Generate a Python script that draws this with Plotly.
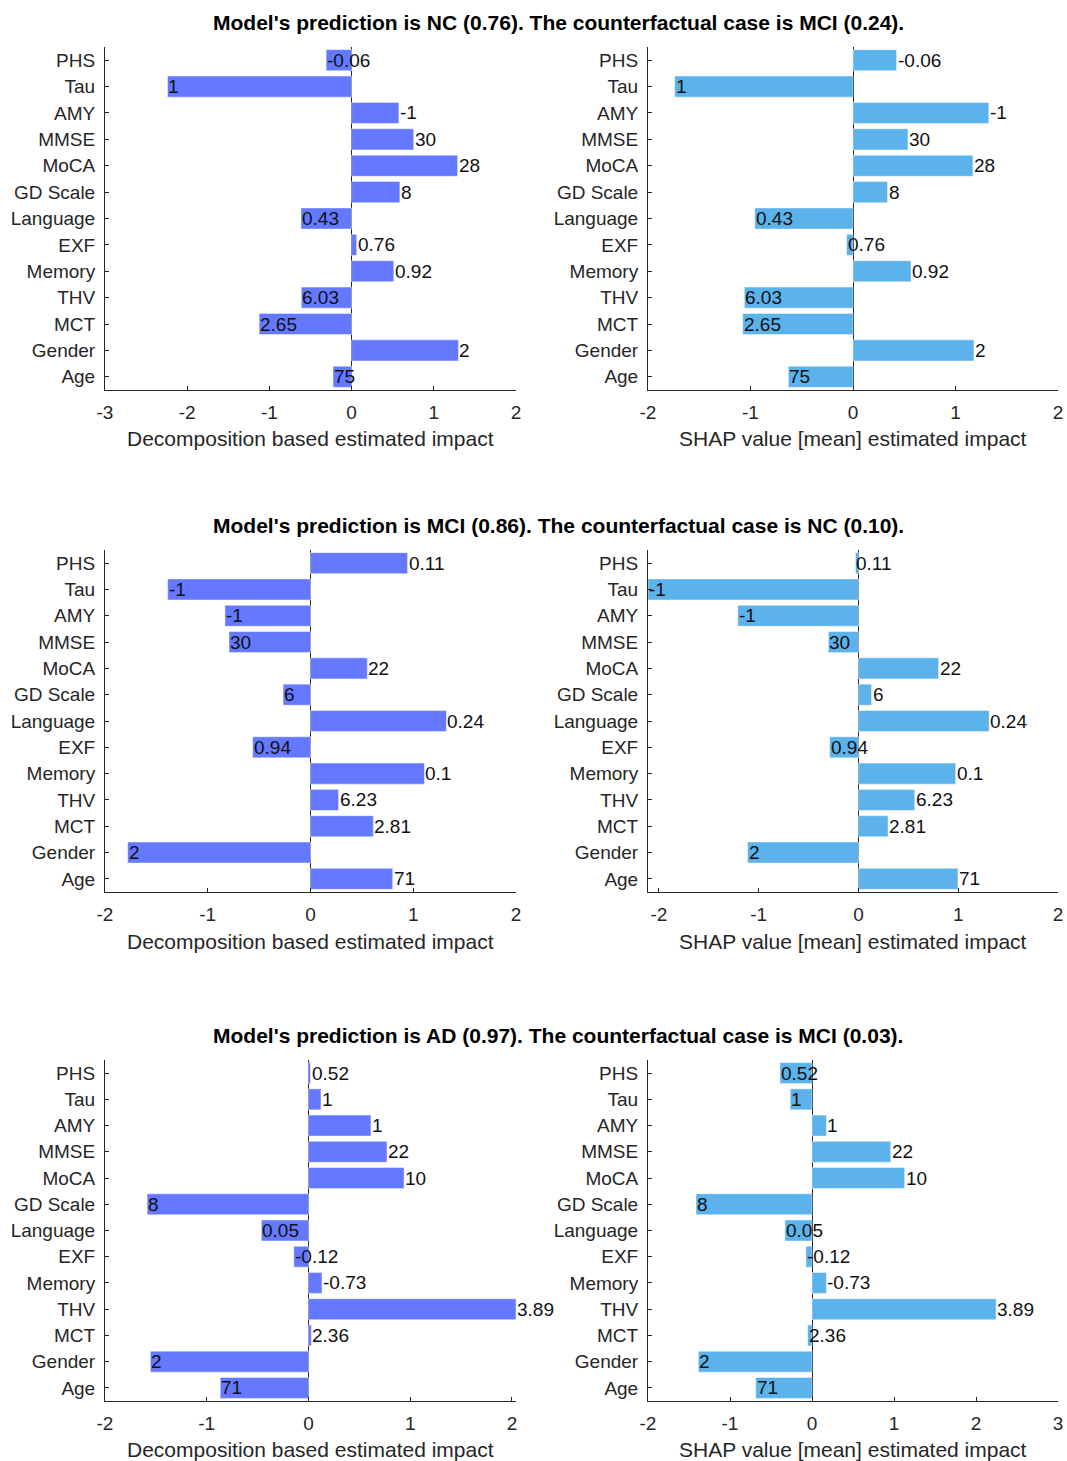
import plotly.graph_objects as go

W, H = 1067, 1461

features = ["PHS", "Tau", "AMY", "MMSE", "MoCA", "GD Scale", "Language",
            "EXF", "Memory", "THV", "MCT", "Gender", "Age"]

titles = [
    "Model's prediction is NC (0.76). The counterfactual case is MCI (0.24).",
    "Model's prediction is MCI (0.86). The counterfactual case is NC (0.10).",
    "Model's prediction is AD (0.97). The counterfactual case is MCI (0.03).",
]

# feature values printed next to each bar, one list per case
values_nc = ["-0.06", "1", "-1", "30", "28", "8", "0.43", "0.76", "0.92",
             "6.03", "2.65", "2", "75"]
values_mci = ["0.11", "-1", "-1", "30", "22", "6", "0.24", "0.94", "0.1",
              "6.23", "2.81", "2", "71"]
values_ad = ["0.52", "1", "1", "22", "10", "8", "0.05", "-0.12", "-0.73",
             "3.89", "2.36", "2", "71"]

# decomposition based impact
decomp_nc = [-0.31, -2.24, 0.575, 0.756, 1.29, 0.587, -0.616, 0.062, 0.513,
             -0.612, -1.125, 1.30, -0.226]
decomp_mci = [0.945, -1.39, -0.833, -0.793, 0.553, -0.267, 1.323, -0.563,
              1.109, 0.273, 0.612, -1.78, 0.80]
decomp_ad = [0.02, 0.123, 0.614, 0.772, 0.94, -1.586, -0.463, -0.144, 0.133,
             2.04, 0.028, -1.554, -0.867]

# SHAP value [mean] impact
shap_nc = [0.425, -1.74, 1.325, 0.536, 1.17, 0.337, -0.958, -0.062, 0.566,
           -1.06, -1.076, 1.18, -0.631]
shap_mci = [-0.03, -2.11, -1.21, -0.302, 0.803, 0.131, 1.31, -0.289, 0.974,
            0.564, 0.296, -1.112, 0.997]
shap_ad = [-0.39, -0.266, 0.176, 0.96, 1.13, -1.415, -0.331, -0.074, 0.176,
           2.245, -0.053, -1.386, -0.687]

x_ranges = [[-3, 2], [-2, 2], [-2, 2], [-2.11, 2], [-2, 2.04], [-2, 3]]

DECOMP_COLOR = "#6479FF"
SHAP_COLOR = "#5CB2EA"
INK = "#262626"
FONT = "Liberation Sans, Arial, sans-serif"

panels = [
    (decomp_nc, values_nc, DECOMP_COLOR, "Decomposition based estimated impact"),
    (shap_nc, values_nc, SHAP_COLOR, "SHAP value [mean] estimated impact"),
    (decomp_mci, values_mci, DECOMP_COLOR, "Decomposition based estimated impact"),
    (shap_mci, values_mci, SHAP_COLOR, "SHAP value [mean] estimated impact"),
    (decomp_ad, values_ad, DECOMP_COLOR, "Decomposition based estimated impact"),
    (shap_ad, values_ad, SHAP_COLOR, "SHAP value [mean] estimated impact"),
]

# panel geometry in pixels
col_x = [(105, 516), (648, 1058)]
row_y = [(47, 390), (550, 892), (1060, 1401)]
title_y = [22, 525, 1035]
xlabel_y = [438, 941, 1449]


def px(x):
    return x / W


def py(y):
    return 1 - y / H


fig = go.Figure()
annotations = []

for i, (impact, labels, color, xlabel) in enumerate(panels):
    r, c = divmod(i, 2)
    n = i + 1
    xa = "x" if n == 1 else f"x{n}"
    ya = "y" if n == 1 else f"y{n}"

    fig.add_trace(go.Bar(
        x=impact, y=features, orientation="h", width=0.8,
        marker=dict(color=color, line=dict(color="rgba(255,255,255,0.45)", width=1)),
        xaxis=xa, yaxis=ya, showlegend=False, hoverinfo="skip",
    ))

    for feat, v, lab in zip(features, impact, labels):
        annotations.append(dict(
            x=v, y=feat, xref=xa, yref=ya, text=lab, showarrow=False,
            xanchor="left", yanchor="middle", xshift=-1,
            font=dict(family=FONT, size=19, color="#111111"),
        ))

    lo, hi = x_ranges[i]
    ticks = list(range(int(-(-lo // 1)), int(hi // 1) + 1))
    tick_text = [str(t) for t in ticks]

    x0, x1 = col_x[c]
    y0, y1 = row_y[r]
    axis_common = dict(
        showline=True, linecolor=INK, linewidth=1, mirror=False,
        ticks="inside", ticklen=4, tickcolor=INK, showgrid=False,
        automargin=False,
        tickfont=dict(family=FONT, size=19, color=INK),
    )
    fig.layout[f"xaxis{'' if n == 1 else n}"] = dict(
        axis_common, domain=[px(x0), px(x1)], anchor=ya,
        range=x_ranges[i], tickmode="array", tickvals=ticks, ticktext=tick_text,
        zeroline=True, zerolinecolor=INK, zerolinewidth=1, ticklabelstandoff=5,
    )
    fig.layout[f"yaxis{'' if n == 1 else n}"] = dict(
        axis_common, domain=[py(y1), py(y0)], anchor=xa,
        categoryorder="array", categoryarray=features,
        range=[12.5, -0.5], ticklabelstandoff=5,
    )

    annotations.append(dict(
        x=px((x0 + x1) / 2), y=py(xlabel_y[r]), xref="paper", yref="paper",
        text=xlabel, showarrow=False, xanchor="center", yanchor="middle",
        font=dict(family=FONT, size=21, color=INK),
    ))

for r, t in enumerate(titles):
    annotations.append(dict(
        x=px(558), y=py(title_y[r]), xref="paper", yref="paper",
        text=f"<b>{t}</b>", showarrow=False, xanchor="center", yanchor="middle",
        font=dict(family=FONT, size=21, color="#000000"),
    ))

fig.update_layout(
    width=W, height=H, margin=dict(l=0, r=0, t=0, b=0, pad=0),
    paper_bgcolor="white", plot_bgcolor="white",
    annotations=annotations, bargap=0.2,
)

fig.write_html("out.html")
